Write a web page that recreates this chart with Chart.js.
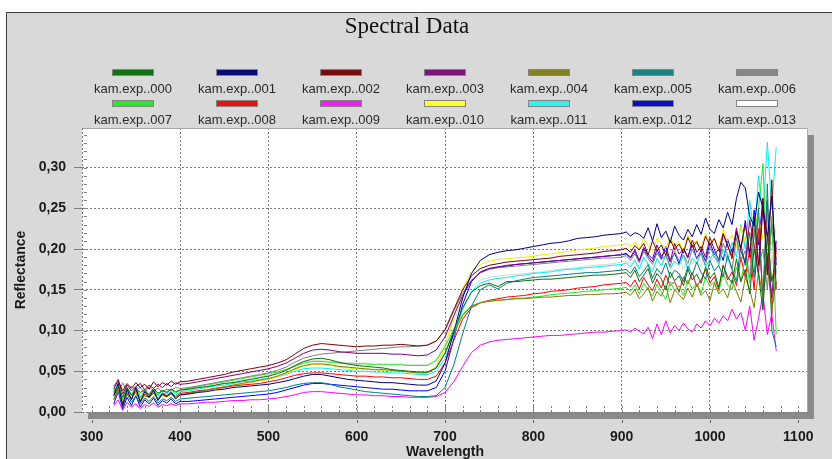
<!DOCTYPE html>
<html><head><meta charset="utf-8">
<script src="https://cdn.jsdelivr.net/npm/chart.js@4/dist/chart.umd.min.js"></script>
<style>html,body{margin:0;padding:0;background:#fff;overflow:hidden}</style>
</head><body><canvas id="c" width="832" height="459"></canvas>
<script>
const wavelengths = [325,330,335,340,345,350,355,360,365,370,375,380,385,390,395,400,
410,420,430,440,450,460,470,480,490,500,510,520,530,540,550,560,570,580,590,600,610,620,630,640,650,660,670,680,690,700,710,720,730,740,750,760,770,780,790,800,810,820,830,840,850,860,870,880,890,900,
905,910,915,920,925,930,935,940,945,950,955,960,965,970,975,980,985,990,995,1000,1005,1010,1015,1020,1025,1030,1035,1040,1045,1050,1055,1060,1065,1070,1075];

const seriesNames = ['kam.exp..000','kam.exp..001','kam.exp..002','kam.exp..003','kam.exp..004','kam.exp..005','kam.exp..006',
'kam.exp..007','kam.exp..008','kam.exp..009','kam.exp..010','kam.exp..011','kam.exp..012','kam.exp..013'];

const s000 = [0.025,0.032,0.018,0.030,0.021,0.028,0.024,0.027,0.020,0.029,0.023,0.026,0.024,0.028,0.025,0.027,
0.028,0.030,0.031,0.033,0.035,0.036,0.038,0.040,0.042,0.044,0.047,0.051,0.057,0.062,0.065,0.066,0.064,0.061,0.059,0.057,
0.056,0.055,0.054,0.052,0.051,0.050,0.049,0.049,0.054,0.072,0.100,0.128,0.147,0.155,0.158,0.154,0.160,0.160,0.161,0.162,
0.163,0.163,0.164,0.165,0.166,0.167,0.168,0.168,0.169,0.170,
0.171,0.165,0.174,0.160,0.168,0.176,0.158,0.170,0.163,0.150,0.172,0.161,0.167,0.155,0.175,0.162,0.169,0.158,0.178,0.164,
0.171,0.153,0.180,0.166,0.158,0.188,0.160,0.175,0.145,0.200,0.168,0.125,0.215,0.160,0.190];
const s001 = [0.020,0.035,0.008,0.028,0.015,0.030,0.012,0.025,0.018,0.027,0.014,0.022,0.019,0.024,0.016,0.021,
0.022,0.024,0.025,0.027,0.028,0.030,0.031,0.032,0.033,0.034,0.036,0.038,0.041,0.044,0.046,0.046,0.044,0.042,0.040,0.039,
0.038,0.037,0.036,0.036,0.035,0.034,0.033,0.033,0.038,0.060,0.098,0.140,0.170,0.186,0.193,0.196,0.198,0.199,0.201,0.203,
0.205,0.207,0.208,0.210,0.213,0.214,0.215,0.217,0.218,0.219,
0.221,0.216,0.220,0.218,0.213,0.226,0.210,0.231,0.214,0.222,0.208,0.228,0.217,0.211,0.224,0.215,0.230,0.218,0.238,0.224,
0.219,0.236,0.226,0.245,0.230,0.262,0.282,0.275,0.240,0.228,0.270,0.250,0.215,0.265,0.180];
const s002 = [0.032,0.038,0.026,0.035,0.029,0.036,0.030,0.034,0.028,0.037,0.031,0.036,0.033,0.038,0.034,0.037,
0.038,0.040,0.042,0.044,0.046,0.049,0.051,0.053,0.055,0.057,0.060,0.064,0.071,0.078,0.082,0.084,0.083,0.082,0.081,0.080,
0.081,0.081,0.082,0.082,0.083,0.082,0.081,0.082,0.087,0.101,0.126,0.150,0.167,0.176,0.180,0.182,0.184,0.185,0.186,0.187,
0.188,0.189,0.191,0.192,0.193,0.194,0.195,0.197,0.198,0.199,
0.201,0.196,0.204,0.199,0.207,0.193,0.210,0.198,0.205,0.192,0.211,0.200,0.206,0.195,0.214,0.202,0.209,0.197,0.216,0.204,
0.213,0.198,0.219,0.205,0.188,0.222,0.201,0.230,0.195,0.240,0.180,0.262,0.168,0.285,0.150];
const s003 = [0.028,0.040,0.022,0.033,0.026,0.031,0.035,0.027,0.033,0.029,0.034,0.030,0.035,0.031,0.036,0.034,
0.035,0.037,0.039,0.041,0.043,0.045,0.047,0.049,0.051,0.053,0.056,0.060,0.066,0.072,0.076,0.077,0.076,0.074,0.073,0.072,
0.072,0.072,0.072,0.071,0.071,0.070,0.069,0.070,0.076,0.092,0.118,0.143,0.161,0.171,0.176,0.178,0.180,0.181,0.182,0.183,
0.184,0.185,0.186,0.187,0.188,0.189,0.190,0.191,0.192,0.193,
0.195,0.190,0.199,0.186,0.202,0.193,0.188,0.205,0.191,0.198,0.184,0.207,0.194,0.200,0.189,0.211,0.196,0.203,0.190,0.214,
0.199,0.186,0.218,0.203,0.192,0.226,0.198,0.183,0.236,0.205,0.170,0.250,0.190,0.140,0.210];
const s004 = [0.015,0.028,0.010,0.022,0.017,0.024,0.013,0.020,0.018,0.023,0.016,0.021,0.019,0.022,0.018,0.021,
0.023,0.025,0.027,0.029,0.031,0.033,0.035,0.037,0.039,0.041,0.044,0.048,0.053,0.057,0.059,0.059,0.058,0.056,0.055,0.054,
0.053,0.052,0.052,0.051,0.050,0.049,0.048,0.048,0.054,0.072,0.097,0.118,0.130,0.134,0.136,0.137,0.138,0.139,0.139,0.140,
0.141,0.141,0.142,0.143,0.143,0.144,0.144,0.145,0.145,0.146,
0.147,0.143,0.150,0.139,0.145,0.153,0.136,0.148,0.142,0.155,0.134,0.150,0.144,0.138,0.152,0.141,0.157,0.143,0.149,0.137,
0.158,0.145,0.151,0.140,0.162,0.148,0.135,0.165,0.150,0.128,0.172,0.140,0.185,0.125,0.160];
const s005 = [0.015,0.028,0.006,0.022,0.012,0.020,0.010,0.017,0.013,0.019,0.011,0.016,0.014,0.018,0.013,0.016,
0.017,0.018,0.019,0.020,0.021,0.022,0.023,0.024,0.025,0.026,0.028,0.030,0.033,0.035,0.036,0.036,0.034,0.031,0.029,0.027,
0.025,0.024,0.023,0.022,0.021,0.020,0.019,0.019,0.020,0.030,0.058,0.096,0.130,0.150,0.156,0.151,0.158,0.161,0.163,0.165,
0.166,0.167,0.168,0.169,0.170,0.171,0.171,0.172,0.173,0.174,
0.175,0.170,0.178,0.166,0.173,0.181,0.164,0.176,0.169,0.183,0.165,0.174,0.170,0.160,0.179,0.168,0.184,0.171,0.163,0.186,
0.173,0.180,0.166,0.192,0.175,0.160,0.205,0.180,0.220,0.165,0.250,0.130,0.280,0.100,0.080];
const s006 = [0.030,0.022,0.036,0.025,0.032,0.027,0.030,0.024,0.031,0.026,0.029,0.025,0.028,0.027,0.030,0.029,
0.030,0.032,0.034,0.036,0.038,0.040,0.042,0.044,0.046,0.048,0.051,0.055,0.061,0.066,0.069,0.071,0.072,0.073,0.074,0.075,
0.076,0.077,0.078,0.079,0.080,0.080,0.081,0.082,0.087,0.100,0.124,0.146,0.162,0.171,0.175,0.177,0.178,0.179,0.180,0.181,
0.182,0.183,0.184,0.185,0.186,0.187,0.188,0.189,0.189,0.190,
0.192,0.186,0.194,0.183,0.197,0.188,0.181,0.195,0.187,0.192,0.179,0.198,0.185,0.193,0.182,0.200,0.188,0.194,0.180,0.203,
0.190,0.184,0.207,0.192,0.176,0.214,0.186,0.198,0.165,0.225,0.180,0.200,0.150,0.235,0.170];
const s007 = [0.022,0.034,0.015,0.028,0.020,0.031,0.018,0.026,0.022,0.029,0.020,0.027,0.024,0.028,0.023,0.027,
0.029,0.031,0.033,0.035,0.037,0.039,0.041,0.043,0.045,0.047,0.049,0.052,0.056,0.060,0.062,0.062,0.061,0.060,0.059,0.059,
0.059,0.058,0.058,0.058,0.058,0.057,0.057,0.057,0.063,0.080,0.102,0.120,0.130,0.134,0.136,0.137,0.138,0.139,0.140,0.141,
0.142,0.144,0.145,0.146,0.147,0.148,0.149,0.150,0.151,0.152,
0.153,0.148,0.156,0.145,0.158,0.150,0.142,0.157,0.147,0.138,0.160,0.149,0.155,0.143,0.162,0.151,0.158,0.146,0.165,0.154,
0.160,0.148,0.170,0.156,0.150,0.178,0.160,0.190,0.158,0.215,0.250,0.305,0.170,0.240,0.095];
const s008 = [0.020,0.030,0.010,0.024,0.016,0.027,0.014,0.022,0.018,0.025,0.016,0.023,0.020,0.024,0.019,0.023,
0.024,0.026,0.027,0.029,0.030,0.032,0.033,0.034,0.035,0.037,0.039,0.042,0.045,0.047,0.048,0.048,0.047,0.046,0.045,0.044,
0.044,0.043,0.043,0.042,0.042,0.041,0.040,0.040,0.044,0.060,0.088,0.114,0.128,0.134,0.137,0.139,0.141,0.142,0.143,0.145,
0.146,0.148,0.149,0.150,0.152,0.153,0.154,0.156,0.157,0.158,
0.159,0.154,0.162,0.151,0.165,0.156,0.149,0.163,0.152,0.168,0.155,0.160,0.147,0.166,0.157,0.171,0.154,0.162,0.175,0.158,
0.166,0.150,0.180,0.162,0.172,0.155,0.190,0.165,0.200,0.150,0.225,0.140,0.260,0.120,0.200];
const s009 = [0.008,0.015,0.002,0.012,0.006,0.010,0.004,0.009,0.007,0.011,0.006,0.009,0.008,0.010,0.008,0.010,
0.010,0.011,0.012,0.012,0.013,0.014,0.014,0.015,0.015,0.016,0.017,0.019,0.021,0.024,0.025,0.025,0.024,0.023,0.022,0.021,
0.021,0.020,0.020,0.019,0.019,0.018,0.018,0.018,0.019,0.024,0.037,0.056,0.073,0.082,0.086,0.088,0.089,0.090,0.091,0.092,
0.093,0.094,0.094,0.095,0.096,0.097,0.098,0.098,0.099,0.100,
0.101,0.098,0.103,0.099,0.096,0.104,0.090,0.108,0.095,0.112,0.097,0.106,0.100,0.109,0.102,0.098,0.108,0.103,0.112,0.106,
0.115,0.109,0.118,0.112,0.126,0.114,0.122,0.100,0.130,0.088,0.115,0.145,0.095,0.120,0.075];
const s010 = [0.018,0.030,0.012,0.026,0.016,0.024,0.014,0.021,0.017,0.023,0.015,0.020,0.018,0.022,0.017,0.020,
0.022,0.024,0.026,0.028,0.030,0.032,0.034,0.036,0.038,0.040,0.043,0.047,0.052,0.056,0.058,0.058,0.057,0.055,0.054,0.053,
0.052,0.052,0.051,0.050,0.050,0.049,0.048,0.048,0.056,0.080,0.118,0.152,0.172,0.181,0.185,0.187,0.188,0.189,0.190,0.191,
0.193,0.194,0.196,0.197,0.199,0.200,0.201,0.203,0.204,0.205,
0.207,0.203,0.209,0.200,0.212,0.204,0.198,0.213,0.206,0.201,0.215,0.203,0.209,0.198,0.217,0.205,0.211,0.200,0.219,0.208,
0.213,0.201,0.224,0.210,0.217,0.203,0.228,0.209,0.221,0.196,0.240,0.212,0.230,0.205,0.225];
const s011 = [0.024,0.036,0.015,0.030,0.020,0.028,0.017,0.025,0.021,0.027,0.019,0.024,0.022,0.026,0.021,0.025,
0.026,0.028,0.030,0.032,0.033,0.035,0.037,0.038,0.040,0.041,0.043,0.046,0.050,0.053,0.054,0.054,0.053,0.052,0.051,0.050,
0.050,0.049,0.049,0.048,0.048,0.047,0.046,0.046,0.050,0.066,0.094,0.126,0.148,0.158,0.162,0.164,0.165,0.167,0.168,0.170,
0.171,0.172,0.174,0.175,0.176,0.177,0.178,0.179,0.180,0.181,
0.183,0.178,0.186,0.175,0.190,0.181,0.172,0.188,0.179,0.193,0.176,0.185,0.180,0.192,0.174,0.189,0.182,0.195,0.178,0.187,
0.196,0.181,0.200,0.185,0.208,0.190,0.230,0.200,0.260,0.215,0.290,0.240,0.331,0.250,0.325];
const s012 = [0.010,0.025,0.004,0.018,0.008,0.020,0.006,0.015,0.010,0.017,0.008,0.014,0.011,0.016,0.010,0.013,
0.013,0.014,0.015,0.016,0.017,0.018,0.019,0.020,0.021,0.022,0.024,0.027,0.030,0.033,0.035,0.035,0.034,0.033,0.032,0.031,
0.030,0.029,0.028,0.028,0.027,0.026,0.026,0.026,0.030,0.050,0.090,0.132,0.160,0.172,0.176,0.178,0.179,0.181,0.182,0.183,
0.184,0.185,0.186,0.187,0.188,0.189,0.190,0.191,0.192,0.193,
0.194,0.189,0.197,0.185,0.200,0.191,0.184,0.199,0.188,0.203,0.186,0.195,0.182,0.201,0.190,0.206,0.188,0.198,0.185,0.208,
0.193,0.200,0.186,0.212,0.196,0.220,0.200,0.235,0.190,0.248,0.205,0.262,0.180,0.230,0.200];
const s013 = [0.026,0.033,0.020,0.029,0.023,0.030,0.021,0.027,0.024,0.028,0.022,0.026,0.025,0.027,0.024,0.026,
0.027,0.029,0.031,0.033,0.035,0.037,0.039,0.041,0.043,0.045,0.048,0.052,0.057,0.061,0.063,0.063,0.062,0.061,0.061,0.060,
0.060,0.060,0.059,0.059,0.059,0.058,0.058,0.058,0.064,0.084,0.112,0.138,0.154,0.162,0.165,0.167,0.168,0.169,0.170,0.171,
0.172,0.174,0.175,0.176,0.177,0.179,0.180,0.181,0.182,0.184,
0.185,0.181,0.188,0.178,0.190,0.183,0.176,0.189,0.180,0.193,0.177,0.186,0.191,0.175,0.194,0.182,0.188,0.178,0.197,0.185,
0.191,0.179,0.200,0.187,0.172,0.205,0.183,0.215,0.170,0.225,0.190,0.160,0.240,0.180,0.210];

const seriesValues = [s000,s001,s002,s003,s004,s005,s006,s007,s008,s009,s010,s011,s012,s013];
const lineColors = ['#0c6e0c','#000080','#800000','#800080','#808000','#008080','#808080','#22e822','#ff0000','#ff00ff','#f0f000','#00f0f0','#0000ff','#d8d8d8'];
const legendColors = ['#127312','#0c0c78','#780c0c','#7a167a','#828220','#1a8282','#888888','#2ee62e','#ee1010','#f020f0','#ffff30','#30f0f0','#0c0ccc','#ffffff'];
const xTickValues = [300,400,500,600,700,800,900,1000,1100];
const yTickValues = [0,0.05,0.10,0.15,0.20,0.25,0.30];

const SANS = "'Liberation Sans', Arial, sans-serif";

const framePlugin = {
  id: 'frame',
  beforeDraw(chart) {
    const ctx = chart.ctx, a = chart.chartArea;
    ctx.save();
    ctx.fillStyle = '#ffffff';
    ctx.fillRect(0, 0, chart.width, chart.height);
    ctx.fillStyle = '#d9d9d9';
    ctx.fillRect(6, 12, chart.width - 6, chart.height - 12);
    ctx.strokeStyle = '#3c3c3c';
    ctx.lineWidth = 1;
    ctx.beginPath();
    ctx.moveTo(6.5, chart.height); ctx.lineTo(6.5, 12.5); ctx.lineTo(chart.width, 12.5);
    ctx.stroke();
    ctx.fillStyle = '#8a8a8a';
    ctx.fillRect(a.left + 6, a.top + 7, a.right - a.left, a.bottom - a.top);
    ctx.fillStyle = '#ffffff';
    ctx.fillRect(a.left, a.top, a.right - a.left, a.bottom - a.top);
    ctx.restore();
  },
  afterDraw(chart) {
    const ctx = chart.ctx, a = chart.chartArea;
    const xs = chart.scales.x, ys = chart.scales.y;
    ctx.save();
    ctx.lineWidth = 1;
    ctx.strokeStyle = '#a8a8a8';
    ctx.beginPath();
    ctx.moveTo(a.left, a.top + 0.5); ctx.lineTo(a.right - 0.5, a.top + 0.5); ctx.lineTo(a.right - 0.5, a.bottom);
    ctx.stroke();
    ctx.strokeStyle = '#7c7c7c';
    ctx.setLineDash([2, 2]);
    ctx.beginPath();
    ctx.moveTo(a.left + 0.5, a.top); ctx.lineTo(a.left + 0.5, a.bottom);
    ctx.stroke();
    ctx.setLineDash([]);
    ctx.strokeStyle = '#808080';
    ctx.beginPath();
    for (let v = 300; v <= 1100; v += 20) {
      const px = Math.round(xs.getPixelForValue(v)) + 0.5;
      ctx.moveTo(px, a.bottom - 6); ctx.lineTo(px, a.bottom - 4);
      ctx.moveTo(px, a.bottom - 2); ctx.lineTo(px, a.bottom);
    }
    for (let k = 1; k <= 34; k++) {
      const py = Math.round(ys.getPixelForValue(k / 100)) + 0.5;
      ctx.moveTo(a.left + 2, py); ctx.lineTo(a.left + 5, py);
    }
    ctx.stroke();
    ctx.strokeStyle = '#606060';
    ctx.beginPath();
    xTickValues.forEach(v => {
      const px = Math.round(xs.getPixelForValue(v)) + 0.5;
      ctx.moveTo(px, a.bottom + 8); ctx.lineTo(px, a.bottom + 11);
    });
    ctx.stroke();
    ctx.font = '13px ' + SANS;
    ctx.textAlign = 'center';
    ctx.textBaseline = 'middle';
    chart.data.datasets.forEach((ds, i) => {
      const col = i % 7, row = Math.floor(i / 7);
      const cx = 133 + col * 104;
      const by = row ? 101 : 70;
      const ty = row ? 120 : 89;
      ctx.fillStyle = legendColors[i];
      ctx.fillRect(cx - 20, by, 40, 5);
      ctx.strokeStyle = 'rgba(60,60,60,0.55)';
      ctx.strokeRect(cx - 20.5, by - 0.5, 41, 6);
      ctx.fillStyle = '#2a2a2a';
      ctx.fillText(ds.label, cx, ty);
    });
    ctx.restore();
  }
};

new Chart(document.getElementById('c'), {
  type: 'line',
  data: {
    datasets: seriesValues.map((vals, i) => ({
      label: seriesNames[i],
      data: wavelengths.map((w, j) => ({ x: w, y: vals[j] })),
      borderColor: lineColors[i],
      backgroundColor: lineColors[i],
      borderWidth: 1,
      pointRadius: 0,
      tension: 0,
      fill: false
    }))
  },
  options: {
    responsive: false,
    animation: false,
    events: [],
    layout: { padding: { left: 6, right: 24, top: 0, bottom: 0 } },
    plugins: {
      legend: { display: false },
      tooltip: { enabled: false },
      title: {
        display: true,
        text: 'Spectral Data',
        color: '#111',
        font: { family: "'Liberation Serif', 'Times New Roman', serif", size: 23, weight: 'normal' },
        padding: { top: 13, bottom: 87.4 }
      }
    },
    scales: {
      x: {
        type: 'linear',
        min: 289, max: 1111,
        afterBuildTicks: s => { s.ticks = xTickValues.map(v => ({ value: v })); },
        afterFit: s => { s.height = 47; },
        ticks: { autoSkip: false, maxRotation: 0, padding: 17, color: '#1a1a1a',
                 font: { family: SANS, size: 14, weight: 'bold' }, callback: v => String(v) },
        grid: { drawTicks: false, lineWidth: 1,
                color: c => (c.tick && (c.tick.value === 300 || c.tick.value === 1100)) ? 'rgba(0,0,0,0)' : '#7c7c7c' },
        border: { display: false, dash: [2, 2] },
        title: { display: true, text: 'Wavelength', color: '#1a1a1a',
                 font: { family: SANS, size: 14, weight: 'bold', lineHeight: 1 }, padding: { top: 0, bottom: 0 } }
      },
      y: {
        type: 'linear',
        min: 0, max: 0.3485,
        afterBuildTicks: s => { s.ticks = yTickValues.map(v => ({ value: v })); },
        afterFit: s => { s.width = 76; },
        ticks: { padding: 8, color: '#1a1a1a', font: { family: SANS, size: 14, weight: 'bold' },
                 callback: v => Number(v).toFixed(2).replace('.', ',') },
        grid: { drawTicks: true, tickLength: 8, color: '#7c7c7c', lineWidth: 1 },
        border: { display: false, dash: [2, 2] },
        title: { display: true, text: 'Reflectance', color: '#1a1a1a',
                 font: { family: SANS, size: 14, weight: 'bold' }, padding: { top: 7, bottom: 0 } }
      }
    }
  },
  plugins: [framePlugin]
});
</script>
</body></html>
